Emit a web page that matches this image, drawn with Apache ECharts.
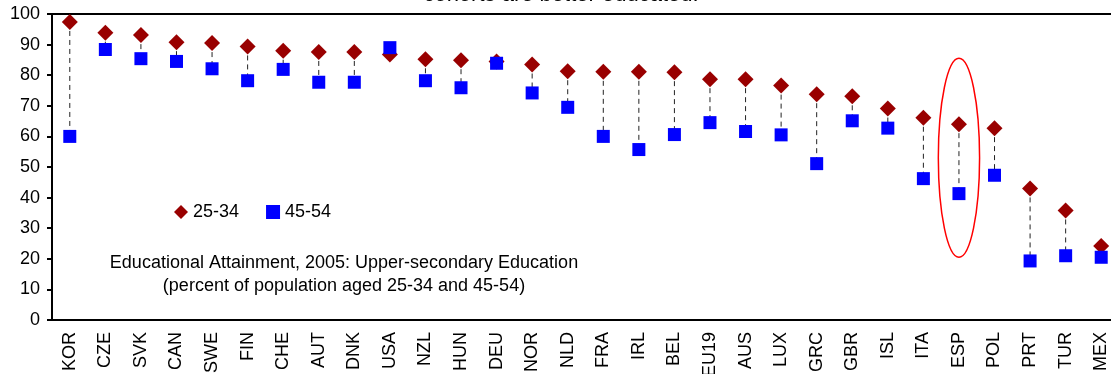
<!DOCTYPE html>
<html>
<head>
<meta charset="utf-8">
<script src="https://cdn.jsdelivr.net/npm/echarts@6/dist/echarts.min.js"></script>
<style>
html,body{margin:0;padding:0;background:#fff;}
#chart{width:1111px;height:374px;}
</style>
</head>
<body>
<div id="chart"></div>
<script>
const categories = ['KOR','CZE','SVK','CAN','SWE','FIN','CHE','AUT','DNK','USA','NZL','HUN','DEU','NOR','NLD','FRA','IRL','BEL','EU19','AUS','LUX','GRC','GBR','ISL','ITA','ESP','POL','PRT','TUR','MEX'];
const age2534 = [97.4,93.9,93.1,90.8,90.5,89.4,88.0,87.6,87.6,86.8,85.2,84.9,84.5,83.5,81.3,81.1,81.1,81.0,78.7,78.7,76.6,73.8,73.1,69.1,66.1,64.0,62.7,43.0,35.8,24.2];
const age4554 = [60.0,88.4,85.4,84.5,82.1,78.2,81.9,77.7,77.7,89.0,78.2,75.9,83.9,74.2,69.5,60.0,55.7,60.6,64.5,61.6,60.5,51.1,65.1,62.7,46.2,41.3,47.3,19.3,21.0,20.5];
const yTicks = [0,10,20,30,40,50,60,70,80,90,100];
const highlight = ['ESP', 53, 32.5];

const FONT = "'Liberation Sans', Arial, sans-serif";
const chart = echarts.init(document.getElementById('chart'), null, {renderer:'canvas'});

const pairs = categories.map((c,i)=>[i, age2534[i], age4554[i]]);

chart.setOption({
  animation:false,
  backgroundColor:'#fff',
  textStyle:{fontFamily:FONT},
  grid:{left:52, top:14, right:-8, bottom:54, containLabel:false, outerBoundsMode:'none',
    show:true, borderColor:'#000', borderWidth:2, backgroundColor:'transparent'},
  legend:{
    data:[{name:'25-34', icon:'diamond'},{name:'45-54', icon:'rect'}],
    left:169, top:198, itemWidth:14, itemHeight:14, itemGap:27,
    textStyle:{fontSize:18, color:'#000', fontFamily:FONT}
  },
  graphic:[
    {type:'text', style:{text:'cohorts are better educated.', x:561, y:6, textAlign:'center', textVerticalAlign:'bottom', font:"22px 'Liberation Sans', Arial", fill:'#000'}},
    {type:'text', style:{text:'Educational Attainment, 2005: Upper-secondary Education', x:344, y:263, textAlign:'center', textVerticalAlign:'middle', font:"18px 'Liberation Sans', Arial", fill:'#000'}},
    {type:'text', style:{text:'(percent of population aged 25-34 and 45-54)', x:344, y:286, textAlign:'center', textVerticalAlign:'middle', font:"18px 'Liberation Sans', Arial", fill:'#000'}}
  ],
  xAxis:{
    type:'category', data:categories, boundaryGap:true,
    axisLine:{lineStyle:{color:'#000', width:2}},
    axisTick:{inside:true, length:6, lineStyle:{color:'#000', width:2}},
    axisLabel:{rotate:90, interval:0, margin:12, fontSize:18, color:'#000', fontFamily:FONT},
    splitLine:{show:false}
  },
  yAxis:{
    type:'value', min:yTicks[0], max:yTicks[yTicks.length-1], interval:10,
    axisLine:{show:true, lineStyle:{color:'#000', width:2}},
    axisTick:{show:true, inside:false, length:5, lineStyle:{color:'#000', width:2}},
    axisLabel:{fontSize:18, color:'#000', margin:12, fontFamily:FONT},
    splitLine:{show:false}
  },
  series:[
    {
      type:'custom', name:'gap', silent:true, z:1,
      data:pairs,
      renderItem:function(params, api){
        const p1 = api.coord([api.value(0), api.value(1)]);
        const p2 = api.coord([api.value(0), api.value(2)]);
        return {type:'line', shape:{x1:p1[0], y1:p1[1], x2:p2[0], y2:p2[1]},
          style:{stroke:'#222', lineWidth:1, lineDash:[5,4]}};
      }
    },
    {
      type:'scatter', name:'25-34', data:age2534, symbol:'diamond', symbolSize:[16,16], z:3,
      itemStyle:{color:'#990000', opacity:1}
    },
    {
      type:'scatter', name:'45-54', data:age4554, symbol:'rect', symbolSize:13, z:4,
      itemStyle:{color:'#0000FF', opacity:1}
    },
    {
      type:'custom', name:'highlight', silent:true, z:5,
      data:[highlight],
      renderItem:function(params, api){
        const c = api.coord([api.value(0), api.value(1)]);
        const s = api.size([1, api.value(2)]);
        return {type:'ellipse', shape:{cx:c[0], cy:c[1], rx:s[0]*0.58, ry:s[1]},
          style:{fill:null, stroke:'#FF0000', lineWidth:1.5}};
      }
    }
  ]
});
</script>
</body>
</html>
